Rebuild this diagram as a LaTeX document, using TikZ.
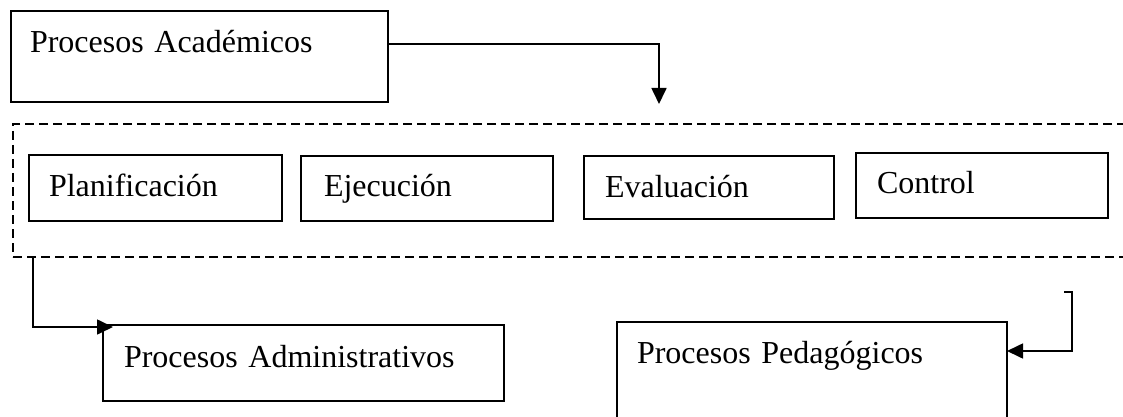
\documentclass[tikz,border=0pt]{standalone}
\usepackage{fontspec}
\setmainfont{Liberation Serif}
\usetikzlibrary{arrows.meta,calc}
\begin{document}
\begin{tikzpicture}[x=1pt,y=-1pt,
  box/.style={draw, line width=1.7pt, inner ysep=0pt, outer sep=0pt, align=left, anchor=base west,
    font=\fontsize{32}{38}\selectfont},
  grp/.style={draw, dash pattern=on 9pt off 5pt, line width=2.3pt, inner sep=0pt, outer sep=0pt, anchor=north west},
  arr/.style={line width=1.7pt, -{Triangle[length=16pt,width=15pt]}}]
\useasboundingbox (0,0) rectangle (1123,417);
% dashed container
\node[grp, minimum width=1127pt, minimum height=133pt] (grupo) at (13,124) {};
% boxes
\node[box, inner xsep=19pt, text width=339pt, text height=42pt, text depth=49pt] (PA) at (11,53) {Procesos Académicos};
\node[box, inner xsep=20pt, text width=213pt, text height=41pt, text depth=25pt] (plan) at (29,196) {Planificación};
\node[box, inner xsep=23pt, text width=206pt, text height=40pt, text depth=25pt] (ejec) at (301,196) {Ejecución};
\node[box, inner xsep=21pt, text width=208pt, text height=41pt, text depth=22pt] (eval) at (584,197) {Evaluación};
\node[box, inner xsep=21pt, text width=210pt, text height=40pt, text depth=25pt] (ctrl) at (856,193) {Control};
\node[box, inner xsep=21pt, text width=359pt, text height=42pt, text depth=34pt] (adm) at (103,367) {Procesos Administrativos};
\node[box, inner xsep=20pt, text width=350pt, text height=41pt, text depth=57pt] (ped) at (617,363) {Procesos Pedagógicos};
% connectors
\draw[arr, shorten >=20pt] (PA.east |- 0,44) -| (grupo.north -| 659,0);
\draw[arr] (grupo.south west -| 33,0) |- ($(adm.north west)+(10,2)$);
\coordinate (c3) at (1064,292);
\draw[arr] (c3) -- ++(8,0) |- (ped.east |- 0,351);
\end{tikzpicture}
\end{document}
